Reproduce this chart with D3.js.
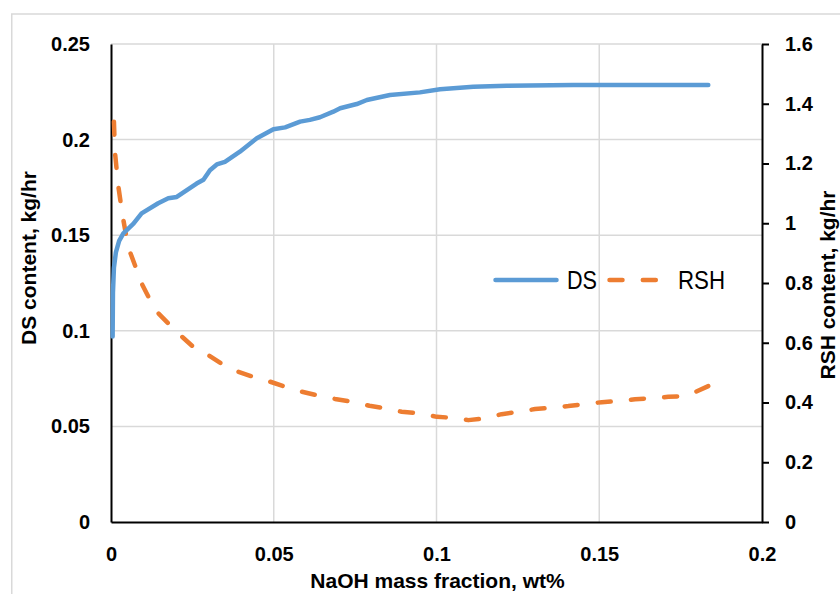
<!DOCTYPE html>
<html>
<head>
<meta charset="utf-8">
<script src="https://cdn.jsdelivr.net/npm/d3@7"></script>
<style>
  html, body { margin: 0; padding: 0; background: #fff; }
  svg { display: block; }
</style>
</head>
<body>
<svg id="chart" width="840" height="594"></svg>
<script>
// NaOH mass fraction (wt%) and disulfide (DS) content, kg/hr
const naohDS = [0.0005, 0.0006, 0.0009, 0.0015, 0.0025, 0.0038, 0.0069, 0.0094, 0.0145, 0.0176,
  0.0202, 0.0263, 0.0284, 0.0304, 0.0325, 0.035, 0.0396, 0.0448, 0.0499, 0.0535,
  0.0581, 0.0611, 0.0642, 0.0683, 0.0704, 0.0755, 0.0786, 0.0857, 0.0949, 0.1011,
  0.1113, 0.1216, 0.142, 0.1835];
const dsValues = [0.097, 0.12, 0.133, 0.141, 0.147, 0.151, 0.156, 0.1614, 0.1667, 0.1693,
  0.170, 0.177, 0.179, 0.184, 0.187, 0.1884, 0.1937, 0.2007, 0.2054, 0.2064,
  0.2094, 0.2103, 0.2117, 0.2146, 0.2164, 0.2186, 0.2207, 0.2233, 0.2247, 0.2263,
  0.2277, 0.2282, 0.2286, 0.2286];

// NaOH mass fraction (wt%) and mercaptan (RSH) content, kg/hr
const naohRSH = [0.0009, 0.0012, 0.0022, 0.003, 0.0038, 0.0048, 0.0058, 0.0079, 0.0094, 0.012,
  0.0145, 0.0181, 0.0212, 0.0258, 0.0299, 0.0345, 0.0391, 0.0442, 0.0488, 0.054,
  0.0586, 0.0642, 0.0688, 0.0739, 0.0794, 0.0842, 0.0893, 0.0944, 0.1001, 0.1047,
  0.1098, 0.1149, 0.12, 0.1251, 0.1303, 0.1354, 0.1405, 0.1456, 0.1508, 0.1559,
  0.161, 0.1661, 0.1712, 0.1769, 0.1835];
const rshValues = [1.34, 1.24, 1.128, 1.067, 1.011, 0.95, 0.905, 0.844, 0.799, 0.743,
  0.699, 0.659, 0.626, 0.581, 0.559, 0.526, 0.503, 0.484, 0.47, 0.451,
  0.436, 0.422, 0.412, 0.403, 0.389, 0.381, 0.369, 0.364, 0.352, 0.349,
  0.341, 0.347, 0.361, 0.369, 0.378, 0.383, 0.388, 0.395, 0.401, 0.405,
  0.411, 0.414, 0.419, 0.422, 0.455];

// Axis ticks
const xTicks = [0, 0.05, 0.1, 0.15, 0.2];
const dsTicks = [0, 0.05, 0.1, 0.15, 0.2, 0.25];
const rshTicks = [0, 0.2, 0.4, 0.6, 0.8, 1, 1.2, 1.4, 1.6];

const seriesNames = ["DS", "RSH"];
const axisTitles = {
  x: "NaOH mass fraction, wt%",
  left: "DS content, kg/hr",
  right: "RSH content, kg/hr"
};

const BLUE = "#5b9bd5";
const ORANGE = "#ed7d31";
const GRID = "#d9d9d9";
const FONT = "'Liberation Sans', Arial, sans-serif";

const svg = d3.select("#chart");

// chart area frame
svg.append("rect")
  .attr("x", 11.75).attr("y", 14)
  .attr("width", 900).attr("height", 700)
  .attr("fill", "#fff")
  .attr("stroke", GRID).attr("stroke-width", 1.5);

const plot = { left: 111, right: 762, top: 44, bottom: 522 };

const x = d3.scaleLinear().domain([0, 0.2]).range([plot.left, plot.right]);
const yL = d3.scaleLinear().domain([0, 0.25]).range([plot.bottom, plot.top]);
const yR = d3.scaleLinear().domain([0, 1.6]).range([plot.bottom, plot.top]);

// gridlines
const grid = svg.append("g").attr("stroke", GRID).attr("stroke-width", 1.5);
grid.selectAll("line.h").data(dsTicks.filter(d => d > 0)).join("line")
  .attr("class", "h")
  .attr("x1", plot.left).attr("x2", plot.right)
  .attr("y1", d => yL(d)).attr("y2", d => yL(d));
grid.selectAll("line.v").data(xTicks.filter(d => d > 0 && d < 0.2)).join("line")
  .attr("class", "v")
  .attr("y1", plot.top).attr("y2", plot.bottom)
  .attr("x1", d => x(d)).attr("x2", d => x(d));

function styleAxis(g) {
  g.select(".domain").attr("stroke", "#000").attr("stroke-width", 2);
  g.selectAll(".tick line").attr("stroke", "#000").attr("stroke-width", 2);
  g.selectAll(".tick text")
    .attr("font-family", FONT).attr("font-size", 20)
    .attr("font-weight", "bold").attr("fill", "#000");
}

// bottom axis
svg.append("g")
  .attr("transform", `translate(0,${plot.bottom})`)
  .call(d3.axisBottom(x).tickValues(xTicks).tickFormat(d => String(d))
    .tickSize(0).tickSizeOuter(0).tickPadding(25))
  .call(styleAxis);

// left axis
svg.append("g")
  .attr("transform", `translate(${plot.left},0)`)
  .call(d3.axisLeft(yL).tickValues(dsTicks).tickFormat(d => String(d))
    .tickSize(0).tickSizeOuter(0).tickPadding(21))
  .call(styleAxis);

// right axis
svg.append("g")
  .attr("transform", `translate(${plot.right},0)`)
  .call(d3.axisRight(yR).tickValues(rshTicks).tickFormat(d => String(d))
    .tickSize(7).tickSizeOuter(0).tickPadding(16))
  .call(styleAxis);

// axis titles
svg.append("text")
  .attr("x", (plot.left + plot.right) / 2 + 1).attr("y", 588)
  .attr("text-anchor", "middle")
  .attr("font-family", FONT).attr("font-size", 21).attr("font-weight", "bold")
  .text(axisTitles.x);

svg.append("text")
  .attr("transform", "translate(29,258) rotate(-90)")
  .attr("text-anchor", "middle").attr("dy", "0.35em")
  .attr("font-family", FONT).attr("font-size", 21).attr("font-weight", "bold")
  .text(axisTitles.left);

svg.append("text")
  .attr("transform", "translate(828,285) rotate(-90)")
  .attr("text-anchor", "middle").attr("dy", "0.35em")
  .attr("font-family", FONT).attr("font-size", 21).attr("font-weight", "bold")
  .text(axisTitles.right);

// series lines
const dsLine = d3.line().x(d => x(d[0])).y(d => yL(d[1]));
const rshLine = d3.line().x(d => x(d[0])).y(d => yR(d[1]));

svg.append("path")
  .datum(d3.zip(naohRSH, rshValues))
  .attr("d", rshLine)
  .attr("fill", "none").attr("stroke", ORANGE).attr("stroke-width", 4.5)
  .attr("stroke-dasharray", "13,20.3")
  .attr("stroke-linecap", "round").attr("stroke-linejoin", "round");

svg.append("path")
  .datum(d3.zip(naohDS, dsValues))
  .attr("d", dsLine)
  .attr("fill", "none").attr("stroke", BLUE).attr("stroke-width", 4.5)
  .attr("stroke-linecap", "round").attr("stroke-linejoin", "round");

// legend (condensed labels)
const legend = svg.append("g");
legend.append("line")
  .attr("x1", 495.5).attr("x2", 556.5).attr("y1", 280).attr("y2", 280)
  .attr("stroke", BLUE).attr("stroke-width", 4.5).attr("stroke-linecap", "round");
legend.append("text")
  .attr("x", 567).attr("y", 288.5)
  .attr("font-family", FONT).attr("font-size", 26)
  .attr("textLength", 30).attr("lengthAdjust", "spacingAndGlyphs")
  .text(seriesNames[0]);
legend.append("line")
  .attr("x1", 609.5).attr("x2", 675.5).attr("y1", 280).attr("y2", 280)
  .attr("stroke", ORANGE).attr("stroke-width", 4.5).attr("stroke-linecap", "round")
  .attr("stroke-dasharray", "13,20.3");
legend.append("text")
  .attr("x", 678).attr("y", 288.5)
  .attr("font-family", FONT).attr("font-size", 26)
  .attr("textLength", 47).attr("lengthAdjust", "spacingAndGlyphs")
  .text(seriesNames[1]);
</script>
</body>
</html>
